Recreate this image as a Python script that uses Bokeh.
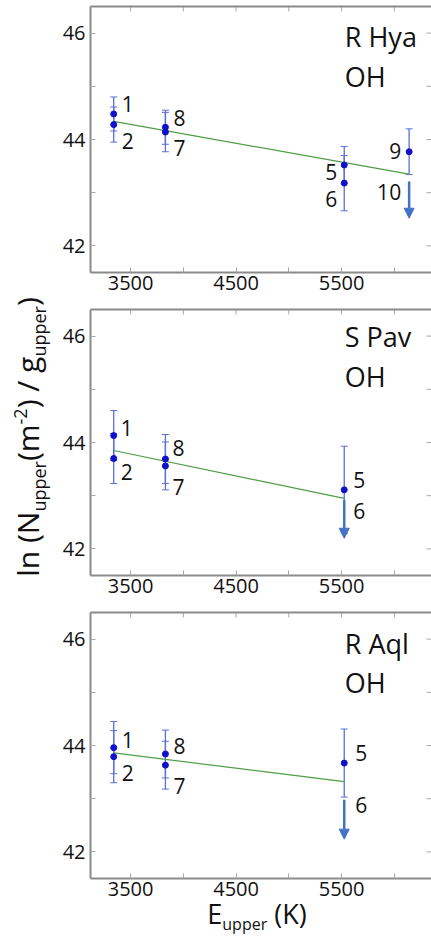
import math
from bokeh.plotting import figure
from bokeh.models import (Range1d, FixedTicker, ColumnDataSource, Div, LinearAxis,
                          Whisker, TeeHead, Arrow, NormalHead)
from bokeh.layouts import column, row
from bokeh.core.properties import value
from bokeh.embed import file_html
from bokeh.resources import INLINE

FONT = "Open Sans"

# ---------------- data ----------------
x_ticks = [3500, 4500, 5500]
x_minor = [3000, 4000, 5000, 6000]
y_ticks = [42, 44, 46]
y_minor = [43, 45]

# R Hya
hya_name = "R Hya"
hya_E = [3340, 3340, 3830, 3830, 5525, 5525, 6140]
hya_y = [44.48, 44.28, 44.23, 44.14, 43.52, 43.18, 43.77]
hya_err = [0.32, 0.33, 0.32, 0.37, 0.35, 0.52, 0.43]
hya_lim_E = [6140]
hya_lim_top = [43.21]
hya_lim_tip = [42.52]
hya_fit_E = [3340, 6140]
hya_fit_y = [44.34, 43.35]
hya_lab = ["1", "2", "8", "7", "5", "6", "9", "10"]
hya_lab_E = [3340, 3340, 3830, 3830, 5525, 5525, 6140, 6140]
hya_lab_y = [44.66, 43.98, 44.41, 43.84, 43.39, 42.89, 43.78, 43.02]

# S Pav
pav_name = "S Pav"
pav_E = [3340, 3340, 3830, 3830, 5525]
pav_y = [44.13, 43.70, 43.69, 43.56, 43.11]
pav_err = [0.47, 0.47, 0.46, 0.45, 0.82]
pav_lim_E = [5525]
pav_lim_top = [42.92]
pav_lim_tip = [42.20]
pav_fit_E = [3340, 5525]
pav_fit_y = [43.85, 42.95]
pav_lab = ["1", "2", "8", "7", "5", "6"]
pav_lab_E = [3340, 3340, 3830, 3830, 5525, 5525]
pav_lab_y = [44.27, 43.44, 43.90, 43.16, 43.29, 42.72]

# R Aql
aql_name = "R Aql"
aql_E = [3340, 3340, 3830, 3830, 5525]
aql_y = [43.96, 43.79, 43.84, 43.63, 43.67]
aql_err = [0.49, 0.49, 0.45, 0.45, 0.64]
aql_lim_E = [5525]
aql_lim_top = [42.98]
aql_lim_tip = [42.24]
aql_fit_E = [3340, 5525]
aql_fit_y = [43.86, 43.32]
aql_lab = ["1", "2", "8", "7", "5", "6"]
aql_lab_E = [3340, 3340, 3830, 3830, 5525, 5525]
aql_lab_y = [44.11, 43.48, 43.99, 43.24, 43.86, 42.88]

# ---------------- layout / style (not data) ----------------
hya_lab_dx = [8, 8, 8, 8, -7, -7, -8, -8]
pav_lab_dx = [7, 7, 7, 7, 9, 9]
aql_lab_dx = [8, 8, 8, 8, 11, 11]
hya_title_y = [45.94, 45.18]
pav_title_y = [45.99, 45.24]
aql_title_y = [45.91, 45.18]
TITLE_X = 5530

MK = "#1010cc"
EB = "#5a70dc"
AR = "#4472c4"
GREEN = "#4f9d45"
FRAME = "#8a8a8a"
TICK = "#a8a8a8"
TXT = "#111111"

LEFT_W = 55
PANEL_W = 431 - LEFT_W


def style_axis(ax, ticks, minor, standoff):
    ax.ticker = FixedTicker(ticks=ticks, minor_ticks=minor)
    ax.axis_line_color = FRAME
    ax.axis_line_width = 2
    ax.major_tick_in = 5
    ax.major_tick_out = 0
    ax.minor_tick_in = 5
    ax.minor_tick_out = 0
    ax.major_tick_line_color = TICK
    ax.minor_tick_line_color = TICK
    ax.major_label_text_font = FONT
    ax.major_label_text_font_size = "20px"
    ax.major_label_text_color = TXT
    ax.major_label_standoff = standoff


def make_panel(h, bottom, name, E, y, err, lim_E, lim_top, lim_tip,
               fit_E, fit_y, lab, lab_E, lab_y, lab_dx, title_y):
    p = figure(width=PANEL_W, height=h, x_range=Range1d(3120, 6352),
               y_range=Range1d(41.5, 46.5), output_backend="svg",
               toolbar_location=None, min_border_left=35, min_border_right=0,
               min_border_top=6, min_border_bottom=bottom)
    p.xgrid.visible = False
    p.ygrid.visible = False
    p.outline_line_color = None
    p.background_fill_color = "white"
    p.border_fill_color = "white"
    for ax in p.xaxis:
        style_axis(ax, x_ticks, x_minor, 3)
    for ax in p.yaxis:
        style_axis(ax, y_ticks, y_minor, 5)
    # top frame edge: an axis line without ticks or labels
    top = LinearAxis(ticker=FixedTicker(ticks=[]), axis_line_color=FRAME,
                     axis_line_width=2, major_tick_out=0, major_tick_in=0,
                     minor_tick_out=0, minor_tick_in=0, major_label_standoff=0)
    p.add_layout(top, "above")

    # mirrored inward ticks on the top and right edges (clipped to the frame)
    xt = x_ticks + x_minor
    yt = y_ticks + y_minor
    p.scatter(xt, [p.y_range.end] * len(xt), marker="dash", angle=math.pi / 2,
              size=10, line_color=TICK, line_width=1)
    p.scatter([p.x_range.end] * len(yt), yt, marker="dash",
              size=10, line_color=TICK, line_width=1)

    src = ColumnDataSource(dict(x=E, y=y,
                                upper=[a + b for a, b in zip(y, err)],
                                lower=[a - b for a, b in zip(y, err)]))
    p.add_layout(Whisker(source=src, base="x", upper="upper", lower="lower",
                         dimension="height", line_color=EB, line_width=1.3,
                         upper_head=TeeHead(size=7, line_color=EB, line_width=1),
                         lower_head=TeeHead(size=7, line_color=EB, line_width=1)))
    p.line(fit_E, fit_y, line_color=GREEN, line_width=1.2)
    p.scatter("x", "y", source=src, size=6, color=MK)

    lsrc = ColumnDataSource(dict(x=lim_E, y0=lim_top, y1=lim_tip))
    p.add_layout(Arrow(end=NormalHead(size=10, fill_color=AR, line_color=AR, line_width=1),
                       source=lsrc, x_start="x", y_start="y0", x_end="x", y_end="y1",
                       line_color=AR, line_width=2.5))

    rt = [i for i, d in enumerate(lab_dx) if d > 0]
    lf = [i for i, d in enumerate(lab_dx) if d < 0]
    for idx, align in ((rt, "left"), (lf, "right")):
        if not idx:
            continue
        p.text(x=[lab_E[i] for i in idx], y=[lab_y[i] for i in idx],
               text=[lab[i] for i in idx], x_offset=[lab_dx[i] for i in idx],
               text_align=align, text_baseline="middle",
               text_font=value(FONT), text_font_size="21px", text_color=TXT)
    p.text(x=[TITLE_X, TITLE_X], y=title_y, text=[name, "OH"],
           text_align="left", text_baseline="alphabetic",
           text_font=value(FONT), text_font_size="27px", text_color=TXT)
    return p


p1 = make_panel(303, 31, hya_name, hya_E, hya_y, hya_err, hya_lim_E, hya_lim_top,
                hya_lim_tip, hya_fit_E, hya_fit_y, hya_lab, hya_lab_E, hya_lab_y,
                hya_lab_dx, hya_title_y)
p2 = make_panel(303, 31, pav_name, pav_E, pav_y, pav_err, pav_lim_E, pav_lim_top,
                pav_lim_tip, pav_fit_E, pav_fit_y, pav_lab, pav_lab_E, pav_lab_y,
                pav_lab_dx, pav_title_y)
p3 = make_panel(301, 29, aql_name, aql_E, aql_y, aql_err, aql_lim_E, aql_lim_top,
                aql_lim_tip, aql_fit_E, aql_fit_y, aql_lab, aql_lab_E, aql_lab_y,
                aql_lab_dx, aql_title_y)

# ---- axis titles with real sub/superscripts (HTML text) ----
SUB = "font-size:18px;position:relative;top:7px"
SUP = "font-size:18px;position:relative;top:-12px"
ylabel_html = (
    f'<div style="position:relative;width:{LEFT_W}px;height:942px;overflow:visible">'
    '<div style="position:absolute;left:0;top:0;width:874px;height:55px;'
    'box-sizing:border-box;padding-top:8px;transform-origin:0 0;'
    'transform:translate(0px,874px) rotate(-90deg);text-align:center;'
    f"white-space:nowrap;font-family:'{FONT}';font-size:30px;line-height:40px;"
    f'color:{TXT}">'
    f'ln (N<span style="{SUB}">upper</span>(m<span style="{SUP}">-2</span>)'
    f' / g<span style="{SUB}">upper</span>)'
    '</div></div>'
)
ydiv = Div(text=ylabel_html, width=LEFT_W, height=942, margin=(0, 0, 0, 0),
           styles={"overflow": "visible"})

XSUB = "font-size:16px;position:relative;top:6px"
xlabel_html = (
    f'<div style="position:relative;width:{PANEL_W}px;height:35px;overflow:visible">'
    f'<div style="position:absolute;left:0;top:-7px;width:{2 * (257 - LEFT_W)}px;'
    f"text-align:center;white-space:nowrap;font-family:'{FONT}';font-size:27px;"
    f'line-height:27px;color:{TXT}">'
    f'E<span style="{XSUB}">upper</span> (K)'
    '</div></div>'
)
xdiv = Div(text=xlabel_html, width=PANEL_W, height=35, margin=(0, 0, 0, 0),
           styles={"overflow": "visible"})

layout = row(ydiv, column(p1, p2, p3, xdiv))
open("out.html", "w").write(file_html(layout, INLINE))
